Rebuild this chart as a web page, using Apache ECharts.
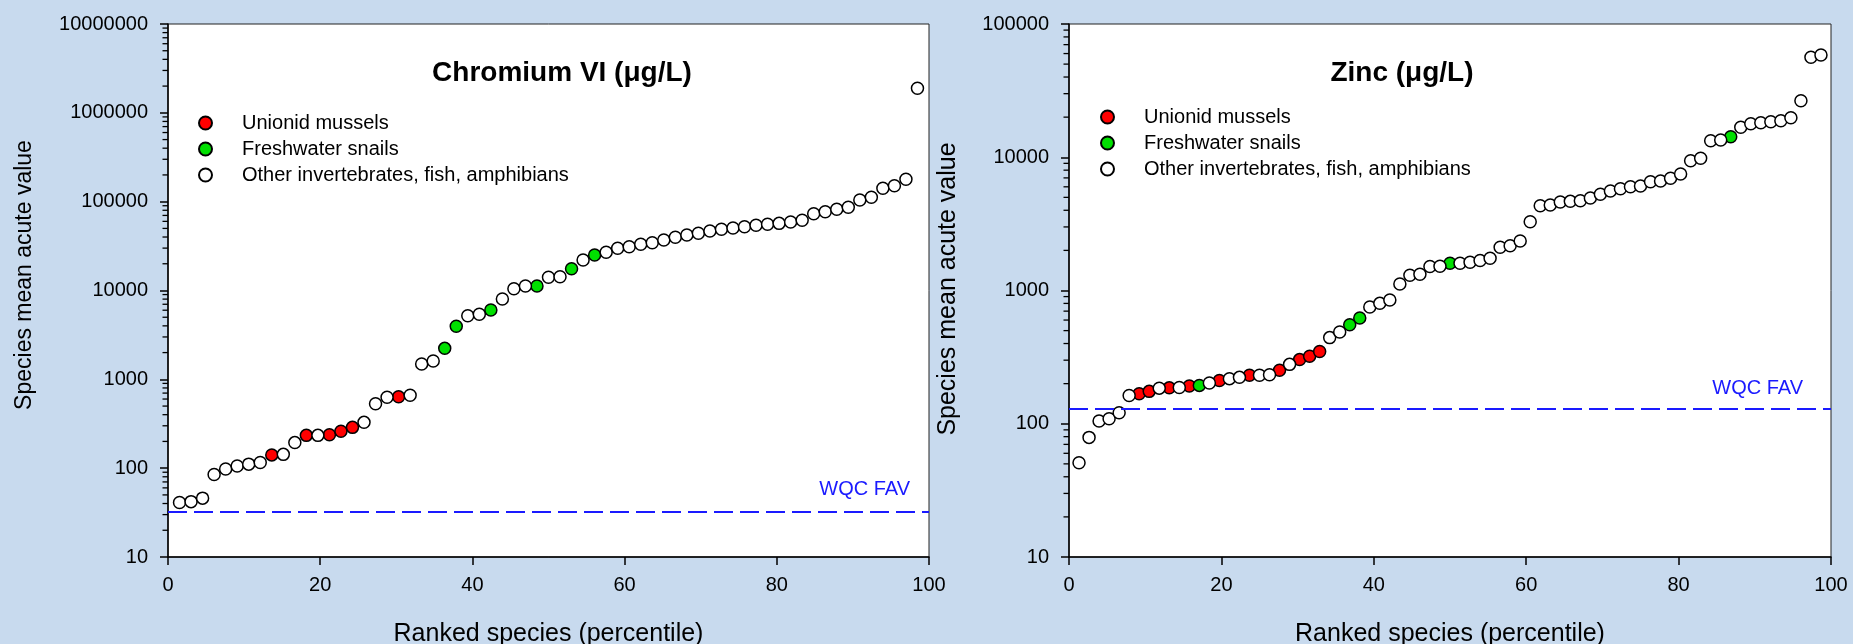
<!DOCTYPE html>
<html>
<head>
<meta charset="utf-8">
<script src="https://cdn.jsdelivr.net/npm/echarts@6/dist/echarts.min.js"></script>
<style>
html,body{margin:0;padding:0;background:#c8daee;}
#c{width:1853px;height:644px;}
</style>
</head>
<body>
<div id="c"></div>
<script>
// ---------- DATA ----------
const groupNames = ['Unionid mussels', 'Freshwater snails', 'Other invertebrates, fish, amphibians'];
const xTicks = [0, 20, 40, 60, 80, 100];

// Chromium VI: species mean acute values, in rank order
const crValues = [41, 42, 46, 85, 98, 106, 111, 116, 141, 143,
  194, 234, 234, 238, 260, 288, 328, 532, 628, 637,
  661, 1486, 1607, 2233, 3954, 5200, 5395, 6030, 8020, 10470,
  11240, 11240, 14070, 14290, 17590, 22030, 25100, 26900, 29850, 31100,
  33100, 34500, 37000, 39700, 42150, 44050, 46740, 48850, 50550, 52250,
  54200, 55600, 57000, 59000, 61700, 73200, 77100, 82000, 86500, 104500,
  112000, 141300, 151300, 178600, 1888000];
const crUnionidRanks = [9, 12, 14, 15, 16, 20];
const crSnailRanks = [24, 25, 28, 32, 35, 37];
const crFAV = 32;
const crYTicks = [10, 100, 1000, 10000, 100000, 1000000, 10000000];

// Zinc: species mean acute values, in rank order
const znValues = [51, 79, 105, 109, 121, 163, 168, 175, 185, 186,
  187, 192, 194, 202, 211, 218, 223, 231, 231, 233,
  252, 279, 303, 321, 348, 443, 488, 554, 622, 752,
  801, 849, 1119, 1300, 1324, 1514, 1520, 1600, 1600, 1629,
  1680, 1745, 2110, 2168, 2351, 3283, 4325, 4383, 4616, 4668,
  4720, 4946, 5272, 5579, 5807, 6013, 6083, 6555, 6631, 6950,
  7487, 9417, 9823, 13300, 13470, 14260, 16780, 17850, 18170, 18490,
  18810, 19800, 26570, 56250, 58460];
const znUnionidRanks = [7, 8, 10, 12, 15, 18, 21, 23, 24, 25];
const znSnailRanks = [13, 28, 29, 38, 66];
const znFAV = 130;
const znYTicks = [10, 100, 1000, 10000, 100000];

// ---------- BUILD ----------
const FONT = '"Liberation Sans", Arial, sans-serif';
const colors = ['#ff0000', '#00e000', '#ffffff'];

function split(values, redRanks, greenRanks) {
  const n = values.length;
  const out = [[], [], []];
  values.forEach((v, i) => {
    const rank = i + 1;
    const pct = rank / (n + 1) * 100;
    const g = redRanks.includes(rank) ? 0 : (greenRanks.includes(rank) ? 1 : 2);
    out[g].push([pct, v]);
  });
  return out;
}
function minorTickValues(ticks) {
  const d = [];
  for (let k = 0; k < ticks.length - 1; k++)
    for (let m = 2; m <= 9; m++) d.push(ticks[k] * m);
  return d;
}

const crGroups = split(crValues, crUnionidRanks, crSnailRanks);
const znGroups = split(znValues, znUnionidRanks, znSnailRanks);

function xAxis(gi) {
  return {
    type: 'value', gridIndex: gi, min: xTicks[0], max: xTicks[xTicks.length - 1], interval: 20,
    name: 'Ranked species (percentile)', nameLocation: 'middle', nameGap: 65,
    nameTextStyle: { fontSize: 25, color: '#000', fontFamily: FONT },
    axisLine: { show: true, lineStyle: { color: '#000', width: 1.5 } },
    axisTick: { show: true, length: 8, lineStyle: { color: '#000', width: 1.5 } },
    axisLabel: { fontSize: 20, color: '#000', fontFamily: FONT, margin: 18 },
    splitLine: { show: false }
  };
}
function yAxis(gi, ticks) {
  return {
    type: 'log', logBase: 10, gridIndex: gi, min: ticks[0], max: ticks[ticks.length - 1],
    axisLine: { show: true, lineStyle: { color: '#000', width: 1.5 } },
    axisTick: { show: true, length: 8, lineStyle: { color: '#000', width: 1.5 } },
    axisLabel: { fontSize: 20, color: '#000', fontFamily: FONT, margin: 20,
      formatter: v => String(Math.round(v)) },
    splitLine: { show: false }
  };
}
function scatterSeries(gi, groups, fav, labelDist) {
  const s = groups.map((d, g) => ({
    type: 'scatter', name: groupNames[g], xAxisIndex: gi, yAxisIndex: gi,
    data: d, symbol: 'circle', symbolSize: 12,
    itemStyle: { color: colors[g], borderColor: '#000', borderWidth: 1.5, opacity: 1 },
    emphasis: { disabled: true }, z: 3
  }));
  s[2].markLine = {
    silent: true, symbol: 'none', animation: false,
    lineStyle: { color: '#1a1aff', type: [19, 7], width: 2 },
    label: { show: true, position: 'insideEndTop', formatter: 'WQC FAV', color: '#1a1aff',
      fontSize: 20, fontFamily: FONT, distance: labelDist },
    data: [{ yAxis: fav }]
  };
  return s;
}
function legend(left, top) {
  return {
    orient: 'vertical', left: left, top: top, padding: 0, itemGap: 0,
    icon: 'circle', itemWidth: 13, itemHeight: 13, data: groupNames,
    selectedMode: false,
    textStyle: { fontSize: 20, color: '#000', fontFamily: FONT, lineHeight: 26, padding: [0, 0, 0, 25] }
  };
}
const gridBase = { top: 24, height: 533, show: true, backgroundColor: '#fff', borderColor: '#222',
  borderWidth: 1, outerBoundsMode: 'none', containLabel: false };

const chart = echarts.init(document.getElementById('c'), null, { renderer: 'canvas' });
chart.setOption({
  animation: false,
  backgroundColor: '#c8daee',
  grid: [
    Object.assign({ left: 168, width: 761 }, gridBase),
    Object.assign({ left: 1069, width: 762 }, gridBase)
  ],
  xAxis: [xAxis(0), xAxis(1)],
  yAxis: [yAxis(0, crYTicks), yAxis(1, znYTicks)],
  legend: [legend(198, 110), legend(1100, 104)],
  series: [
    ...scatterSeries(0, crGroups, crFAV, [19, 13]),
    ...scatterSeries(1, znGroups, znFAV, [28, 10])
  ]
});

// titles, axis titles, and log minor ticks (positioned through the axis scales)
const graphics = [
  { type: 'text', x: 562, y: 73, style: { text: 'Chromium VI (μg/L)', fontSize: 28, fontWeight: 'bold', fontFamily: FONT, fill: '#000', align: 'center', verticalAlign: 'middle' } },
  { type: 'text', x: 1402, y: 73, style: { text: 'Zinc (μg/L)', fontSize: 28, fontWeight: 'bold', fontFamily: FONT, fill: '#000', align: 'center', verticalAlign: 'middle' } },
  { type: 'text', x: 25, y: 275, rotation: Math.PI / 2, style: { text: 'Species mean acute value', fontSize: 23, fontFamily: FONT, fill: '#000', align: 'center', verticalAlign: 'middle' } },
  { type: 'text', x: 948, y: 289, rotation: Math.PI / 2, style: { text: 'Species mean acute value', fontSize: 25, fontFamily: FONT, fill: '#000', align: 'center', verticalAlign: 'middle' } }
];
[[0, crYTicks], [1, znYTicks]].forEach(([gi, ticks]) => {
  minorTickValues(ticks).forEach(v => {
    const p = chart.convertToPixel({ gridIndex: gi }, [xTicks[0], v]);
    if (!p) return;
    graphics.push({ type: 'line', silent: true, z: 10,
      shape: { x1: p[0] - 5.5, y1: p[1], x2: p[0], y2: p[1] },
      style: { stroke: '#000', lineWidth: 1.3 } });
  });
});
chart.setOption({ graphic: graphics });
</script>
</body>
</html>
